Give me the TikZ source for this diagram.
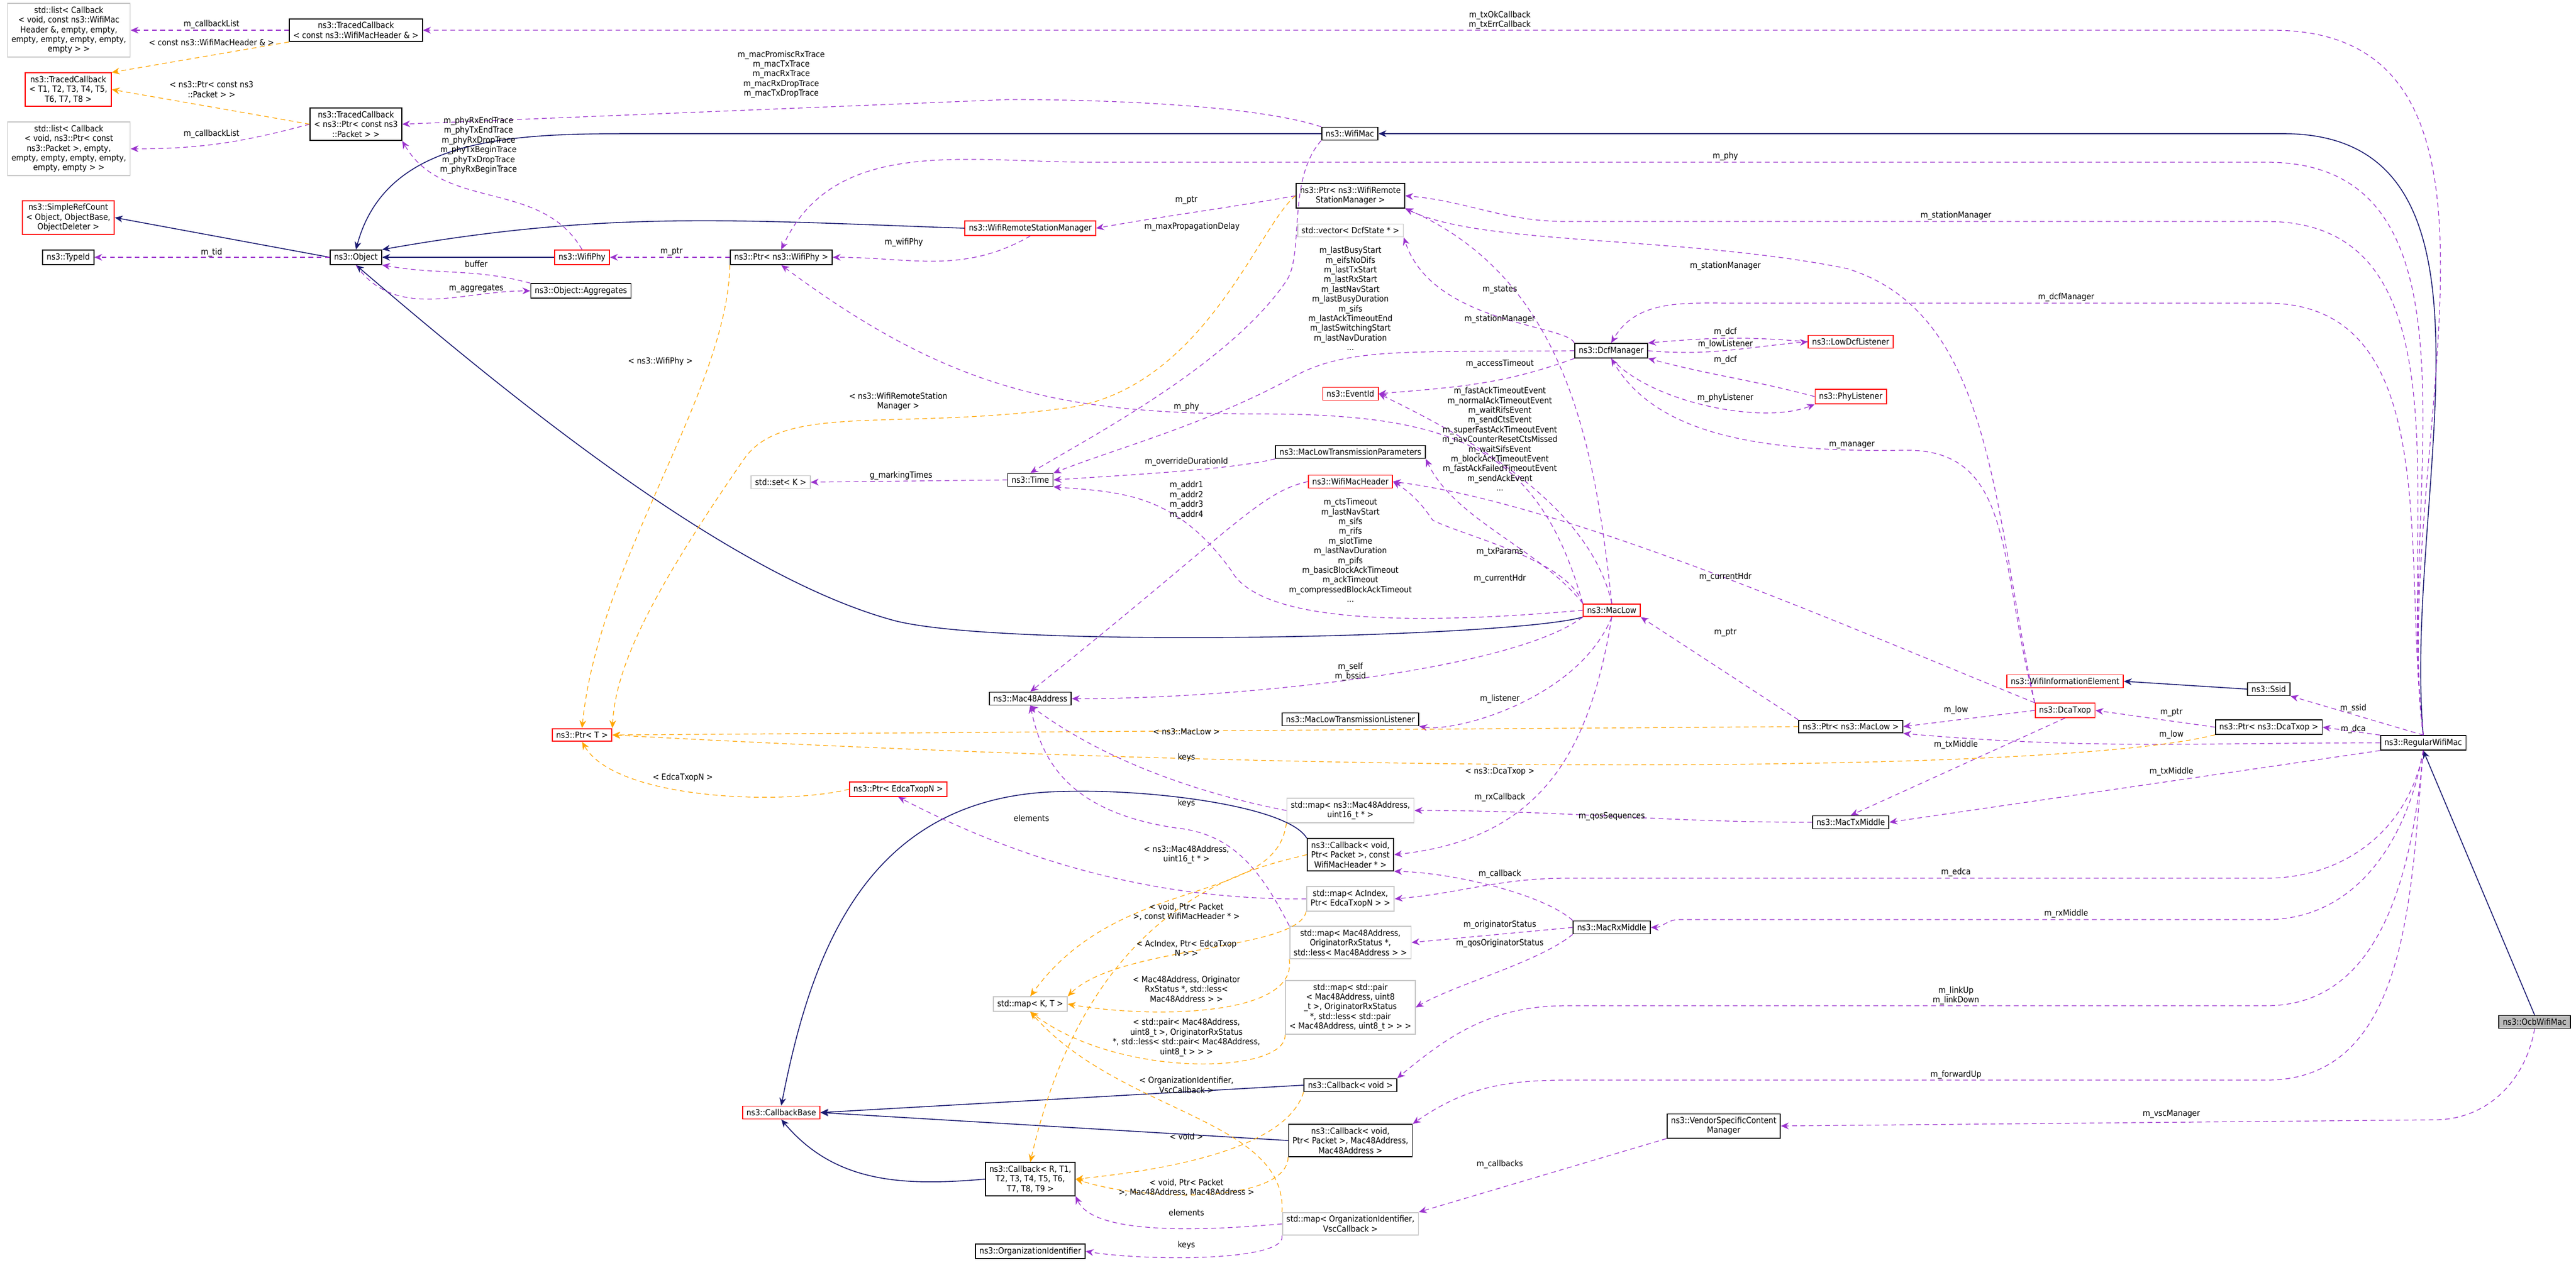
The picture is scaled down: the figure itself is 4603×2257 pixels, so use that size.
\documentclass[tikz,border=0pt]{standalone}
\usepackage{fontspec}
\setmainfont{DejaVu Sans Condensed}
\usetikzlibrary{arrows.meta, positioning}
\definecolor{membc}{HTML}{9A32CD}
\definecolor{tmplc}{HTML}{FFA500}
\definecolor{inhc}{HTML}{191970}
\tikzstyle{cls} = [rectangle, draw=black, line width=0.5pt, inner xsep=2pt, inner ysep=1.6pt, align=center, font=\fontsize{4.3}{4.95}\selectfont]
\tikzstyle{undoc} = [cls, draw=red]
\tikzstyle{ext} = [cls, draw=gray!45]
\tikzstyle{lbl} = [align=center, inner sep=0pt, font=\fontsize{4.3}{4.95}\selectfont]

\begin{document}
\begin{tikzpicture}[x=0.01cm, y=-0.01cm]
        \tikzstyle{member} = [draw=membc, line width=0.35pt, dash pattern=on 2.4pt off 1.8pt, -{Stealth[length=4pt,width=3.4pt]}]
        \tikzstyle{templ} = [member, draw=tmplc]
        \tikzstyle{inherit} = [draw=inhc, line width=0.45pt, -{Stealth[length=4pt,width=3.4pt]}]
        \useasboundingbox (0,0) rectangle (4603,2257);

        \node[ext] (listWifi) at (123,54) {std::list< Callback\\< void, const ns3::WifiMac\\Header \&, empty, empty,\\ empty, empty, empty, empty,\\ empty > >};
        \node[undoc] (tcT8) at (122,160) {ns3::TracedCallback\\< T1, T2, T3, T4, T5,\\ T6, T7, T8 >};
        \node[cls] (tcWifiHdr) at (636,54) {ns3::TracedCallback\\< const ns3::WifiMacHeader \& >};
        \node[cls] (tcPacket) at (636,222) {ns3::TracedCallback\\< ns3::Ptr< const ns3\\::Packet > >};
        \node[ext] (listPacket) at (123,266) {std::list< Callback\\< void, ns3::Ptr< const\\ ns3::Packet >, empty,\\ empty, empty, empty, empty,\\ empty, empty > >};
        \node[undoc] (simpleRef) at (122,389) {ns3::SimpleRefCount\\< Object, ObjectBase,\\ ObjectDeleter >};
        \node[cls] (typeId) at (122,460) {ns3::TypeId};
        \node[cls] (object) at (636,460) {ns3::Object};
        \node[undoc] (wifiPhy) at (1040,460) {ns3::WifiPhy};
        \node[cls] (aggregates) at (1038,520) {ns3::Object::Aggregates};
        \node[undoc] (wifiRemoteMgr) at (1841,408) {ns3::WifiRemoteStationManager};
        \node[cls] (ptrWifiPhy) at (1396,460) {ns3::Ptr< ns3::WifiPhy >};
        \node[cls] (wifiMac) at (2412,239) {ns3::WifiMac};
        \node[cls] (ptrWifiRemote) at (2413,350) {ns3::Ptr< ns3::WifiRemote\\StationManager >};
        \node[ext] (vectorDcf) at (2413,412) {std::vector< DcfState * >};
        \node[undoc] (eventId) at (2413,704) {ns3::EventId};
        \node[cls] (dcfManager) at (2879,627) {ns3::DcfManager};
        \node[undoc] (lowDcfListener) at (3307,611) {ns3::LowDcfListener};
        \node[undoc] (phyListener) at (3307,709) {ns3::PhyListener};
        \node[ext] (setK) at (1395,862) {std::set< K >};
        \node[cls] (time) at (1841,858) {ns3::Time};
        \node[cls] (txParams) at (2413,808) {ns3::MacLowTransmissionParameters};
        \node[undoc] (wifiMacHeader) at (2413,861) {ns3::WifiMacHeader};
        \node[undoc] (macLow) at (2880,1091) {ns3::MacLow};
        \node[cls] (mac48) at (1841,1249) {ns3::Mac48Address};
        \node[cls] (txListener) at (2413,1286) {ns3::MacLowTransmissionListener};
        \node[undoc] (ptrT) at (1040,1314) {ns3::Ptr< T >};
        \node[undoc] (ptrEdca) at (1605,1411) {ns3::Ptr< EdcaTxopN >};
        \node[ext] (mapMacSeq) at (2413,1449) {std::map< ns3::Mac48Address,\\ uint16\_t * >};
        \node[cls] (cbWifiHdr) at (2413,1528) {ns3::Callback< void,\\ Ptr< Packet >, const\\ WifiMacHeader * >};
        \node[ext] (mapAc) at (2413,1607) {std::map< AcIndex,\\ Ptr< EdcaTxopN > >};
        \node[ext] (mapOrig) at (2413,1685) {std::map< Mac48Address,\\ OriginatorRxStatus *,\\ std::less< Mac48Address > >};
        \node[ext] (mapPair) at (2413,1801) {std::map< std::pair\\< Mac48Address, uint8\\\_t >, OriginatorRxStatus\\ *, std::less< std::pair\\< Mac48Address, uint8\_t > > >};
        \node[ext] (mapKT) at (1841,1795) {std::map< K, T >};
        \node[cls] (cbVoid) at (2413,1940) {ns3::Callback< void >};
        \node[undoc] (cbBase) at (1396,1989) {ns3::CallbackBase};
        \node[cls] (cbPkt) at (2413,2039) {ns3::Callback< void,\\ Ptr< Packet >, Mac48Address,\\ Mac48Address >};
        \node[cls] (cbRT) at (1841,2108) {ns3::Callback< R, T1,\\ T2, T3, T4, T5, T6,\\ T7, T8, T9 >};
        \node[ext] (mapOrgId) at (2413,2188) {std::map< OrganizationIdentifier,\\ VscCallback >};
        \node[cls] (orgId) at (1841,2237) {ns3::OrganizationIdentifier};
        \node[undoc] (wifiInfo) at (3690,1218) {ns3::WifiInformationElement};
        \node[cls] (ssid) at (4054,1232) {ns3::Ssid};
        \node[undoc] (dcaTxop) at (3690,1270) {ns3::DcaTxop};
        \node[cls] (ptrDcaTxop) at (4054,1300) {ns3::Ptr< ns3::DcaTxop >};
        \node[cls] (ptrMacLow) at (3307,1299) {ns3::Ptr< ns3::MacLow >};
        \node[cls] (regMac) at (4330,1328) {ns3::RegularWifiMac};
        \node[cls] (macTxMiddle) at (3307,1470) {ns3::MacTxMiddle};
        \node[cls] (macRxMiddle) at (2880,1658) {ns3::MacRxMiddle};
        \node[cls] (vendor) at (3080,2013) {ns3::VendorSpecificContent\\Manager};
        \node[cls, fill=gray!55] (ocb) at (4529,1827) {ns3::OcbWifiMac};

        \draw[inherit] (regMac.north) to[out=95,in=0] (4080,239) -- (wifiMac.east);
        \draw[inherit] (ocb.north) -- (regMac.south);
        \draw[inherit] (wifiMac.west) -- (1150,239) to[out=180,in=75] (object.north);
        \draw[inherit] (wifiPhy.west) -- (object.east);
        \draw[inherit] (wifiRemoteMgr.west) to[out=178,in=10] (object.north east);
        \draw[inherit] (macLow.south west) .. controls (2700,1140) and (1800,1160) .. (1600,1110) .. controls (1300,1030) and (900,700) .. (object.south);
        \draw[inherit] (object.west) -- (simpleRef.east);
        \draw[inherit] (ssid.west) -- (wifiInfo.east);
        \draw[inherit] (cbVoid.west) -- (cbBase.east);
        \draw[inherit] (cbPkt.west) -- (cbBase.east);
        \draw[inherit] (cbRT.west) to[out=185,in=-50] (cbBase.south);
        \draw[inherit] (cbWifiHdr.north west) .. controls (2300,1440) and (2050,1410) .. (1900,1415) .. controls (1550,1420) and (1450,1700) .. (cbBase.north);

        \draw[member] (tcWifiHdr.west) -- (listWifi.east);
        \draw[member] (tcPacket.west) to[out=195,in=0] (listPacket.east);
        \draw[member] (regMac.north) to[out=97,in=0] (4060,54) -- (tcWifiHdr.east);
        \draw[member] (wifiMac.north west) .. controls (2250,190) and (2000,178) .. (1800,178) -- (tcPacket.east);
        \draw[member] (wifiPhy.north) to[out=120,in=-60] (tcPacket.south east);
        \draw[member] (object.west) -- (typeId.east);
        \draw[member] (aggregates.north west) to[out=165,in=-10] (object.south east);
        \draw[member] (object.south) to[out=-55,in=180] (aggregates.west);
        \draw[member] (ptrWifiPhy.west) -- (wifiPhy.east);
        \draw[member] (wifiRemoteMgr.south) to[out=-150,in=0] (ptrWifiPhy.east);
        \draw[member] (ptrWifiRemote.west) to[out=190,in=10] (wifiRemoteMgr.east);
        \draw[member] (regMac.north) to[out=97,in=0] (4050,290) -- (1950,290) to[out=180,in=65] (ptrWifiPhy.north);
        \draw[member] (wifiMac.south west) .. controls (2300,320) and (2330,450) .. (2300,500) .. controls (2200,650) and (1950,780) .. (time.north);
        \draw[member] (regMac.north) to[out=97,in=0] (4050,396) -- (2800,396) to[out=180,in=-5] (ptrWifiRemote.east);
        \draw[member] (dcaTxop.north west) .. controls (3560,900) and (3560,560) .. (3300,480) .. controls (3000,420) and (2650,440) .. (ptrWifiRemote.south east);
        \draw[member] (macLow.north) .. controls (2850,800) and (2800,500) .. (ptrWifiRemote.south east);
        \draw[member] (dcfManager.north west) .. controls (2800,580) and (2560,580) .. (vectorDcf.south east);
        \draw[member] (regMac.north) to[out=97,in=0] (4050,542) -- (3100,542) to[out=180,in=60] (dcfManager.north);
        \draw[member] (lowDcfListener.west) to[out=175,in=5] (dcfManager.north east);
        \draw[member] (dcfManager.east) to[out=-5,in=185] (lowDcfListener.west);
        \draw[member] (phyListener.west) to[out=165,in=-15] (dcfManager.south east);
        \draw[member] (dcfManager.south) .. controls (2950,720) and (3150,760) .. (phyListener.south west);
        \draw[member] (dcfManager.south west) to[out=200,in=5] (eventId.east);
        \draw[member] (dcaTxop.north west) .. controls (3570,1000) and (3600,800) .. (3400,805) .. controls (3100,810) and (2950,760) .. (dcfManager.south);
        \draw[member] (macLow.north) .. controls (2840,900) and (2620,780) .. (eventId.east);
        \draw[member] (dcfManager.west) .. controls (2500,630) and (2400,620) .. (2300,680) .. controls (2150,760) and (2000,800) .. (time.north east);
        \draw[member] (macLow.north west) .. controls (2750,800) and (2600,740) .. (2250,740) .. controls (1900,740) and (1700,700) .. (ptrWifiPhy.south);
        \draw[member] (txParams.south west) .. controls (2200,840) and (2000,850) .. (time.east);
        \draw[member] (time.west) -- (setK.east);
        \draw[member] (macLow.west) .. controls (2500,1120) and (2250,1110) .. (2200,1020) .. controls (2100,880) and (2000,880) .. (time.south east);
        \draw[member] (wifiMacHeader.west) .. controls (2250,880) and (2200,950) .. (mac48.north);
        \draw[member] (macLow.north west) .. controls (2750,980) and (2600,930) .. (txParams.south east);
        \draw[member] (macLow.north west) .. controls (2800,1000) and (2620,960) .. (2560,930) .. controls (2540,900) and (2520,880) .. (wifiMacHeader.east);
        \draw[member] (dcaTxop.north west) .. controls (3300,1120) and (2800,900) .. (wifiMacHeader.east);
        \draw[member] (macLow.south west) .. controls (2700,1200) and (2200,1250) .. (mac48.east);
        \draw[member] (macLow.south) .. controls (2820,1250) and (2600,1310) .. (txListener.south east);
        \draw[member] (macLow.south) .. controls (2840,1350) and (2750,1500) .. (cbWifiHdr.east);
        \draw[member] (ptrMacLow.north west) -- (macLow.south east);
        \draw[member] (dcaTxop.west) -- (ptrMacLow.east);
        \draw[member] (regMac.west) to[out=180,in=-5] (ptrMacLow.south east);
        \draw[member] (ptrDcaTxop.west) -- (dcaTxop.east);
        \draw[member] (regMac.north west) -- (ptrDcaTxop.east);
        \draw[member] (regMac.north) -- (ssid.south east);
        \draw[member] (dcaTxop.south) -- (macTxMiddle.north);
        \draw[member] (regMac.south west) -- (macTxMiddle.east);
        \draw[member] (macTxMiddle.west) to[out=180,in=0] (mapMacSeq.east);
        \draw[member] (mapMacSeq.west) .. controls (2200,1430) and (2000,1380) .. (mac48.south);
        \draw[member] (mapOrig.north west) .. controls (2250,1550) and (2200,1490) .. (2100,1480) .. controls (1900,1450) and (1860,1350) .. (mac48.south);
        \draw[member] (regMac.south) to[out=-100,in=0] (4050,1570) -- (2800,1570) to[out=180,in=5] (mapAc.east);
        \draw[member] (mapAc.west) .. controls (2000,1610) and (1750,1500) .. (ptrEdca.south);
        \draw[member] (macRxMiddle.north west) .. controls (2760,1600) and (2600,1560) .. (cbWifiHdr.south east);
        \draw[member] (regMac.south) to[out=-100,in=0] (4050,1644) -- (3000,1644) to[out=180,in=0] (macRxMiddle.east);
        \draw[member] (macRxMiddle.west) -- (mapOrig.east);
        \draw[member] (macRxMiddle.south west) .. controls (2750,1720) and (2600,1760) .. (mapPair.east);
        \draw[member] (regMac.south) to[out=-95,in=0] (4050,1798) -- (2800,1798) to[out=180,in=40] (cbVoid.north east);
        \draw[member] (regMac.south) to[out=-95,in=0] (4050,1931) -- (2800,1931) to[out=180,in=35] (cbPkt.north east);
        \draw[member] (ocb.south) to[out=-100,in=0] (4350,2002) -- (vendor.east);
        \draw[member] (vendor.south west) -- (mapOrgId.north east);
        \draw[member] (mapOrgId.west) .. controls (2100,2205) and (1950,2200) .. (cbRT.south east);
        \draw[member] (mapOrgId.south west) .. controls (2300,2255) and (2050,2255) .. (orgId.east);

        \draw[templ] (tcWifiHdr.south west) -- (tcT8.north east);
        \draw[templ] (tcPacket.west) -- (tcT8.east);
        \draw[templ] (ptrWifiPhy.south west) .. controls (1300,700) and (1070,1000) .. (ptrT.north);
        \draw[templ] (ptrWifiRemote.west) .. controls (2250,400) and (2150,700) .. (1900,730) .. controls (1600,770) and (1400,720) .. (1330,820) .. controls (1150,1080) and (1100,1200) .. (ptrT.north east);
        \draw[templ] (ptrMacLow.west) -- (ptrT.east);
        \draw[templ] (ptrDcaTxop.south west) .. controls (3700,1380) and (2500,1390) .. (ptrT.east);
        \draw[templ] (ptrEdca.west) .. controls (1400,1440) and (1100,1430) .. (ptrT.south);
        \draw[templ] (mapMacSeq.south west) .. controls (2280,1620) and (2000,1560) .. (mapKT.north);
        \draw[templ] (mapAc.south west) .. controls (2320,1700) and (2000,1690) .. (mapKT.north east);
        \draw[templ] (mapOrig.south west) .. controls (2320,1820) and (2050,1820) .. (mapKT.east);
        \draw[templ] (mapPair.south west) .. controls (2300,1920) and (2000,1930) .. (mapKT.south);
        \draw[templ] (mapOrgId.north west) .. controls (2300,2000) and (2000,1990) .. (mapKT.south);
        \draw[templ] (cbWifiHdr.west) .. controls (2250,1550) and (1950,1600) .. (cbRT.north);
        \draw[templ] (cbVoid.south west) .. controls (2300,2050) and (2100,2090) .. (cbRT.east);
        \draw[templ] (cbPkt.south west) .. controls (2300,2150) and (2050,2150) .. (cbRT.east);

        \node[lbl] at (378,44) {m\_callbackList};
        \node[lbl] at (378,76) {< const ns3::WifiMacHeader \& >};
        \node[lbl] at (378,160) {< ns3::Ptr< const ns3\\::Packet > >};
        \node[lbl] at (378,240) {m\_callbackList};
        \node[lbl] at (2680,36) {m\_txOkCallback\\m\_txErrCallback};
        \node[lbl] at (1396,133) {m\_macPromiscRxTrace\\m\_macTxTrace\\m\_macRxTrace\\m\_macRxDropTrace\\m\_macTxDropTrace};
        \node[lbl] at (855,260) {m\_phyRxEndTrace\\m\_phyTxEndTrace\\m\_phyRxDropTrace\\m\_phyTxBeginTrace\\m\_phyTxDropTrace\\m\_phyRxBeginTrace};
        \node[lbl] at (378,452) {m\_tid};
        \node[lbl] at (851,472) {buffer};
        \node[lbl] at (851,516) {m\_aggregates};
        \node[lbl] at (1200,450) {m\_ptr};
        \node[lbl] at (1615,434) {m\_wifiPhy};
        \node[lbl] at (2120,358) {m\_ptr};
        \node[lbl] at (2130,406) {m\_maxPropagationDelay};
        \node[lbl] at (3083,280) {m\_phy};
        \node[lbl] at (3495,386) {m\_stationManager};
        \node[lbl] at (3083,476) {m\_stationManager};
        \node[lbl] at (2680,518) {m\_states};
        \node[lbl] at (2680,571) {m\_stationManager};
        \node[lbl] at (3692,532) {m\_dcfManager};
        \node[lbl] at (3083,594) {m\_dcf};
        \node[lbl] at (3083,616) {m\_lowListener};
        \node[lbl] at (3083,644) {m\_dcf};
        \node[lbl] at (2680,651) {m\_accessTimeout};
        \node[lbl] at (3083,712) {m\_phyListener};
        \node[lbl] at (3309,796) {m\_manager};
        \node[lbl] at (2413,534) {m\_lastBusyStart\\m\_eifsNoDifs\\m\_lastTxStart\\m\_lastRxStart\\m\_lastNavStart\\m\_lastBusyDuration\\m\_sifs\\m\_lastAckTimeoutEnd\\m\_lastSwitchingStart\\m\_lastNavDuration\\...};
        \node[lbl] at (1180,646) {< ns3::WifiPhy >};
        \node[lbl] at (1605,718) {< ns3::WifiRemoteStation\\Manager >};
        \node[lbl] at (2120,728) {m\_phy};
        \node[lbl] at (2680,785) {m\_fastAckTimeoutEvent\\m\_normalAckTimeoutEvent\\m\_waitRifsEvent\\m\_sendCtsEvent\\m\_superFastAckTimeoutEvent\\m\_navCounterResetCtsMissed\\m\_waitSifsEvent\\m\_blockAckTimeoutEvent\\m\_fastAckFailedTimeoutEvent\\m\_sendAckEvent\\...};
        \node[lbl] at (2120,826) {m\_overrideDurationId};
        \node[lbl] at (1610,851) {g\_markingTimes};
        \node[lbl] at (2120,894) {m\_addr1\\m\_addr2\\m\_addr3\\m\_addr4};
        \node[lbl] at (2413,984) {m\_ctsTimeout\\m\_lastNavStart\\m\_sifs\\m\_rifs\\m\_slotTime\\m\_lastNavDuration\\m\_pifs\\m\_basicBlockAckTimeout\\m\_ackTimeout\\m\_compressedBlockAckTimeout\\...};
        \node[lbl] at (2680,987) {m\_txParams};
        \node[lbl] at (2680,1035) {m\_currentHdr};
        \node[lbl] at (3083,1032) {m\_currentHdr};
        \node[lbl] at (3083,1131) {m\_ptr};
        \node[lbl] at (2413,1201) {m\_self\\m\_bssid};
        \node[lbl] at (2680,1250) {m\_listener};
        \node[lbl] at (2120,1308) {< ns3::MacLow >};
        \node[lbl] at (2120,1354) {keys};
        \node[lbl] at (2680,1379) {< ns3::DcaTxop >};
        \node[lbl] at (2680,1426) {m\_rxCallback};
        \node[lbl] at (2880,1460) {m\_qosSequences};
        \node[lbl] at (3495,1270) {m\_low};
        \node[lbl] at (3880,1274) {m\_ptr};
        \node[lbl] at (4205,1267) {m\_ssid};
        \node[lbl] at (4205,1304) {m\_dca};
        \node[lbl] at (3880,1314) {m\_low};
        \node[lbl] at (3495,1332) {m\_txMiddle};
        \node[lbl] at (3880,1380) {m\_txMiddle};
        \node[lbl] at (1220,1390) {< EdcaTxopN >};
        \node[lbl] at (2120,1436) {keys};
        \node[lbl] at (1843,1463) {elements};
        \node[lbl] at (2120,1528) {< ns3::Mac48Address,\\uint16\_t * >};
        \node[lbl] at (2680,1563) {m\_callback};
        \node[lbl] at (3495,1560) {m\_edca};
        \node[lbl] at (2120,1630) {< void, Ptr< Packet\\>, const WifiMacHeader * >};
        \node[lbl] at (3692,1634) {m\_rxMiddle};
        \node[lbl] at (2680,1654) {m\_originatorStatus};
        \node[lbl] at (2680,1687) {m\_qosOriginatorStatus};
        \node[lbl] at (2120,1695) {< AcIndex, Ptr< EdcaTxop\\N > >};
        \node[lbl] at (2120,1768) {< Mac48Address, Originator\\RxStatus *, std::less<\\Mac48Address > >};
        \node[lbl] at (3495,1780) {m\_linkUp\\m\_linkDown};
        \node[lbl] at (2120,1855) {< std::pair< Mac48Address,\\uint8\_t >, OriginatorRxStatus\\*, std::less< std::pair< Mac48Address,\\uint8\_t > > >};
        \node[lbl] at (3495,1922) {m\_forwardUp};
        \node[lbl] at (2120,1940) {< OrganizationIdentifier,\\VscCallback >};
        \node[lbl] at (3880,1992) {m\_vscManager};
        \node[lbl] at (2120,2032) {< void >};
        \node[lbl] at (2680,2082) {m\_callbacks};
        \node[lbl] at (2120,2123) {< void, Ptr< Packet\\>, Mac48Address, Mac48Address >};
        \node[lbl] at (2120,2168) {elements};
        \node[lbl] at (2120,2226) {keys};
    \end{tikzpicture}
\end{document}
